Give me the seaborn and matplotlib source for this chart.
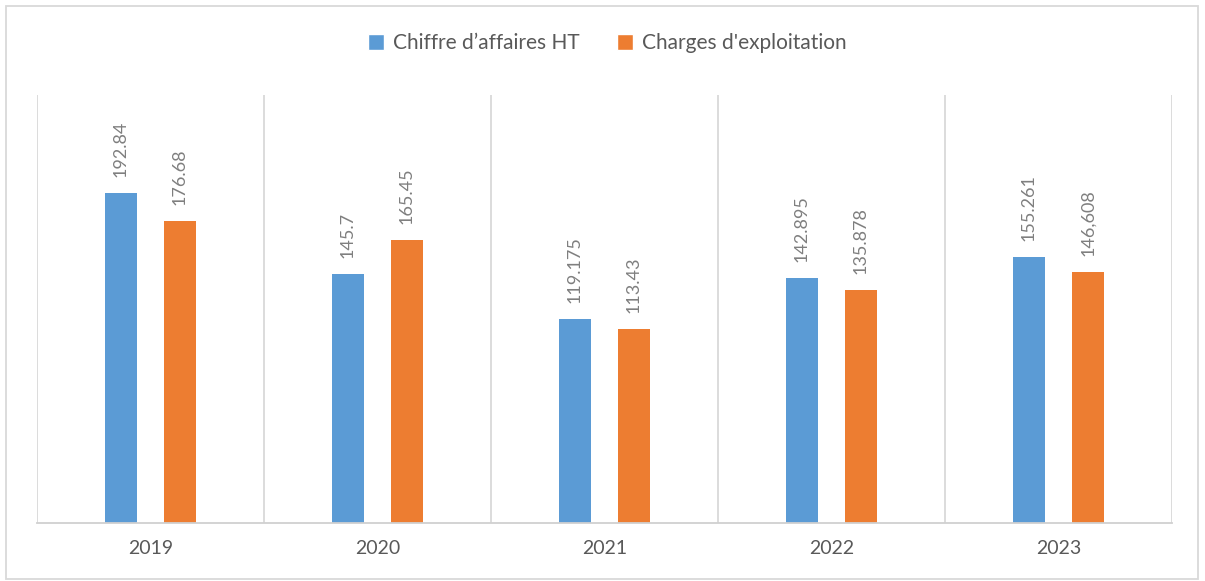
import matplotlib
matplotlib.use("Agg")
import matplotlib.pyplot as plt
import seaborn as sns
import pandas as pd
from matplotlib.patches import Rectangle

years = ["2019", "2020", "2021", "2022", "2023"]
series_names = ["Chiffre d\u2019affaires HT", "Charges d'exploitation"]
ca_values = [192.84, 145.7, 119.175, 142.895, 155.261]
charges_values = [176.68, 165.45, 113.43, 135.878, 146.608]
ca_labels = ["192.84", "145.7", "119.175", "142.895", "155.261"]
charges_labels = ["176.68", "165.45", "113.43", "135.878", "146,608"]
colors = ["#5B9BD5", "#ED7D31"]

df = pd.DataFrame({
    "year": years * 2,
    "value": ca_values + charges_values,
    "series": [series_names[0]] * len(years) + [series_names[1]] * len(years),
})

sns.set_theme(style="white")
plt.rcParams["font.family"] = ["Lato", "DejaVu Sans"]

fig = plt.figure(figsize=(12.05, 5.81), dpi=100)
ax = fig.add_axes([37/1205, 58/581, (1172-37)/1205, (523-95)/581])

sns.barplot(data=df, x="year", y="value", hue="series", palette=colors,
            saturation=1, width=0.52, dodge=True, ax=ax, legend=True)

bar_w = 0.137
label_sets = [ca_labels, charges_labels]
for ci, cont in enumerate(ax.containers):
    for bi, p in enumerate(cont.patches):
        cx = p.get_x() + p.get_width() / 2
        p.set_x(cx - bar_w / 2)
        p.set_width(bar_w)
        p.set_edgecolor("none")
        h = p.get_height()
        ax.annotate(label_sets[ci][bi], xy=(cx, h), xytext=(0, 11.5),
                    textcoords="offset points", rotation=90,
                    ha="center", va="bottom", fontsize=13, color="#7F7F7F")

ax.set_ylim(0, 250)
ax.set_xlim(-0.5, len(years) - 0.5)
ax.set_yticks([])
ax.set_xlabel("")
ax.set_ylabel("")
for b in range(len(years) + 1):
    ax.axvline(b - 0.5, color="#D9D9D9", lw=1.3, zorder=0)
for s in ["top", "right", "left"]:
    ax.spines[s].set_visible(False)
ax.spines["bottom"].set_color("#D0D0D0")
ax.spines["bottom"].set_linewidth(1.3)
ax.tick_params(axis="x", length=0, pad=12, labelsize=14, labelcolor="#595959")

handles, labels = ax.get_legend_handles_labels()
ax.legend_.remove()
fig.legend(handles, labels, loc="center", bbox_to_anchor=(607/1205, 1 - 43/581),
           ncol=2, frameon=False, fontsize=15, handlelength=0.8, handleheight=0.8,
           handletextpad=0.4, columnspacing=1.8, labelcolor="#595959")

fig.add_artist(Rectangle((6/1205, 2/581), 1192/1205, 573/581, transform=fig.transFigure,
                         fill=False, edgecolor="#D9D9D9", lw=1.3))

fig.savefig("out.png", dpi=100)
